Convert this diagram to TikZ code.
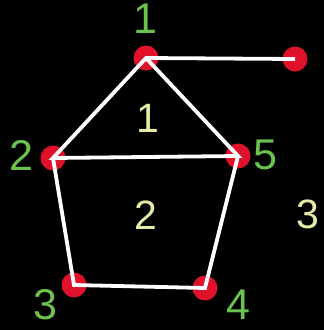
\documentclass[tikz,border=0pt]{standalone}
\usepackage{fontspec}
\setmainfont{Liberation Sans}
\definecolor{vred}{HTML}{E0112B}
\definecolor{vgreen}{HTML}{6CC24E}
\definecolor{fyellow}{HTML}{E8EBA6}
\begin{document}
\begin{tikzpicture}[x=1pt,y=-1pt,
  vdot/.style={circle,fill=vred,minimum size=25pt,inner sep=0pt},
  edge/.style={draw=white,line width=3.8pt,line join=miter},
  vlabel/.style={text=vgreen,font=\fontsize{43}{43}\selectfont,inner sep=0pt},
  flabel/.style={text=fyellow,font=\fontsize{41}{41}\selectfont,inner sep=0pt}]
\fill[black] (0,0) rectangle (324,330);
\useasboundingbox (0,0) rectangle (324,330);
\node[vdot] (n1) at (146,58) {};
\node[vdot] (n6) at (295,59) {};
\node[vdot] (n2) at (53,158) {};
\node[vdot] (n5) at (238,156) {};
\node[vdot] (n3) at (74,285) {};
\node[vdot] (n4) at (205,288) {};
\draw[edge] (n6.center) -- (n1.center) -- (n2.center) -- (n5.center) -- (n1.center);
\draw[edge] (n2.center) -- (n3.center) -- (n4.center) -- (n5.center);
\node[vlabel] (l1) at (145,19) {1};
\node[vlabel] (l2) at (21,155) {2};
\node[vlabel] (l5) at (265,155) {5};
\node[vlabel] (l3) at (45,305) {3};
\node[vlabel] (l4) at (238,305) {4};
\node[flabel] (f1) at (148,118) {1};
\node[flabel] (f2) at (146,215) {2};
\node[flabel] (f3) at (308,214) {3};
\end{tikzpicture}
\end{document}
